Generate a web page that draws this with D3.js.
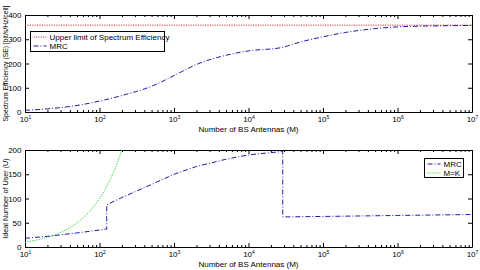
<!DOCTYPE html>
<html>
  <head>
    <meta charset="utf-8">
    <title>SE and ideal number of users vs BS antennas</title>
    <script src="https://d3js.org/d3.v7.min.js"></script>
    <style>
      body { margin: 0; background: #fff; }
      svg { display: block; font-family: "Liberation Sans", Arial, sans-serif; }
      .axis path { stroke: #000; }
      .axis line { stroke: #000; }
      .axis text { fill: #000; }
    </style>
  </head>
  <body>
    <svg id="chart" width="480" height="270"></svg>
    <script>
      // x tick labels (decades)
      var xTicks = [1e1, 1e2, 1e3, 1e4, 1e5, 1e6, 1e7];
      var seTicks = [0, 100, 200, 300, 400];
      var userTicks = [0, 50, 100, 150, 200];

      // top chart: spectrum efficiency
      var seLimitM = [1e1, 1e7];
      var seLimit = [358, 358];
      var seM = [10, 20, 50, 100, 200, 500, 1000, 2000, 5000, 10000, 28000, 50000, 1e5, 2e5, 5e5, 1e6, 2e6, 5e6, 1e7];
      var seMRC = [7, 13, 27, 45, 68, 106, 150, 196, 234, 252, 266, 289, 310, 328, 344, 351, 354, 356, 357];

      // bottom chart: ideal number of users
      var userM = [10, 20, 50, 100, 125, 125, 200, 500, 1000, 2000, 5000, 10000, 28800, 28800, 1e5, 1e6, 1e7];
      var userMRC = [18, 22, 29, 35, 37, 87, 102, 129, 150, 166, 181, 190, 197, 62, 63, 65, 67];
      var mkM = [10, 15, 20, 30, 40, 50, 60, 80, 100, 120, 150, 200];
      var mkU = [10, 15, 20, 30, 40, 50, 60, 80, 100, 120, 150, 200];

      var svg = d3.select("#chart");
      var left = 25, right = 472;

      var x = d3.scaleLog().domain([1e1, 1e7]).range([left, right]);

      function zip(a, b) { return a.map(function(d, i) { return [d, b[i]]; }); }

      function panel(top, bottom, yMax, yTicks, yLabel, labelSize) {
        var y = d3.scaleLinear().domain([0, yMax]).range([bottom, top]);
        var g = svg.append("g");
        // minor ticks (bottom and top)
        var minor = x.ticks().filter(function(d) { return xTicks.indexOf(d) < 0; });
        g.append("g").attr("class", "axis")
          .attr("transform", "translate(0," + bottom + ")")
          .call(d3.axisBottom(x).tickValues(minor).tickSize(-2).tickFormat(""))
          .select(".domain").remove();
        g.append("g").attr("class", "axis")
          .attr("transform", "translate(0," + top + ")")
          .call(d3.axisTop(x).tickValues(minor).tickSize(-2).tickFormat(""))
          .select(".domain").remove();
        // major x ticks
        var xb = g.append("g").attr("class", "axis")
          .attr("transform", "translate(0," + bottom + ")")
          .call(d3.axisBottom(x).tickValues(xTicks).tickSize(-4).tickSizeOuter(0).tickFormat(""));
        xb.selectAll(".tick text").remove();
        xb.selectAll(".tick").append("text")
          .attr("y", 10)
          .attr("text-anchor", "middle")
          .attr("font-size", 8)
          .each(function(d) {
            var t = d3.select(this);
            t.append("tspan").text("10");
            t.append("tspan").attr("dy", -3.5).attr("font-size", 5).text(Math.round(Math.log10(d)));
          });
        g.append("g").attr("class", "axis")
          .attr("transform", "translate(0," + top + ")")
          .call(d3.axisTop(x).tickValues(xTicks).tickSize(-4).tickSizeOuter(0).tickFormat(""));
        // y ticks left and right
        g.append("g").attr("class", "axis")
          .attr("transform", "translate(" + left + ",0)")
          .call(d3.axisLeft(y).tickValues(yTicks).tickSize(-4).tickSizeOuter(0).tickPadding(3))
          .selectAll("text").attr("font-size", 8).attr("dx", -0.5);
        g.append("g").attr("class", "axis")
          .attr("transform", "translate(" + right + ",0)")
          .call(d3.axisRight(y).tickValues(yTicks).tickSize(-4).tickSizeOuter(0).tickFormat(""));
        g.selectAll(".domain").attr("stroke-width", 1);
        // axis titles
        g.append("text")
          .attr("x", (left + right) / 2)
          .attr("y", bottom + 20)
          .attr("text-anchor", "middle")
          .attr("font-size", 8)
          .text("Number of BS Antennas (M)");
        g.append("text")
          .attr("transform", "translate(8," + ((top + bottom) / 2) + ") rotate(-90)")
          .attr("text-anchor", "middle")
          .attr("font-size", labelSize)
          .text(yLabel);
        return y;
      }

      var y1 = panel(15, 112, 400, seTicks, "Spectrum Efficiency (SE) [bit/s/Hz/cell]", 6.8);
      var y2 = panel(150, 247, 200, userTicks, "Ideal Number of User (U)", 7.2);

      var clip = svg.append("defs").append("clipPath").attr("id", "clip2")
        .append("rect").attr("x", left).attr("y", 150).attr("width", right - left).attr("height", 97);

      var line1 = d3.line().x(function(d) { return x(d[0]); }).y(function(d) { return y1(d[1]); }).curve(d3.curveMonotoneX);
      var line2 = d3.line().x(function(d) { return x(d[0]); }).y(function(d) { return y2(d[1]); });
      var line2s = d3.line().x(function(d) { return x(d[0]); }).y(function(d) { return y2(d[1]); }).curve(d3.curveMonotoneX);

      var red = "#d8323c", blue = "#1c1caa", green = "#33d633";
      var dashDot = "5,2,1,2";

      svg.append("path").attr("d", line1(zip(seLimitM, seLimit)))
        .attr("fill", "none").attr("stroke", red).attr("stroke-width", 1).attr("stroke-dasharray", "1.2,1.2");
      svg.append("path").attr("d", line1(zip(seM, seMRC)))
        .attr("fill", "none").attr("stroke", blue).attr("stroke-width", 1).attr("stroke-dasharray", dashDot);

      svg.append("path").attr("d", line2s(zip(mkM, mkU))).attr("clip-path", "url(#clip2)")
        .attr("fill", "none").attr("stroke", green).attr("stroke-width", 1).attr("stroke-dasharray", "1.2,1.2");
      svg.append("path").attr("d", line2(zip(userM, userMRC)))
        .attr("fill", "none").attr("stroke", blue).attr("stroke-width", 1).attr("stroke-dasharray", dashDot);

      // legends
      function legend(x0, y0, w, h, items) {
        var lg = svg.append("g").attr("transform", "translate(" + x0 + "," + y0 + ")");
        lg.append("rect").attr("width", w).attr("height", h)
          .attr("fill", "#fff").attr("stroke", "#000").attr("stroke-width", 1);
        items.forEach(function(it, i) {
          var yy = 5.5 + i * 9;
          lg.append("line").attr("x1", 3).attr("x2", 16).attr("y1", yy).attr("y2", yy)
            .attr("stroke", it.color).attr("stroke-width", 1).attr("stroke-dasharray", it.dash);
          lg.append("text").attr("x", 19).attr("y", yy + 3).attr("font-size", 8).text(it.name);
        });
      }
      legend(30.5, 31.5, 134, 20, [
        { name: "Upper limit of Spectrum Efficiency", color: red, dash: "1.2,1.2" },
        { name: "MRC", color: blue, dash: dashDot }
      ]);
      legend(424.5, 158.5, 39, 19, [
        { name: "MRC", color: blue, dash: dashDot },
        { name: "M=K", color: green, dash: "1.2,1.2" }
      ]);
    </script>
  </body>
</html>
